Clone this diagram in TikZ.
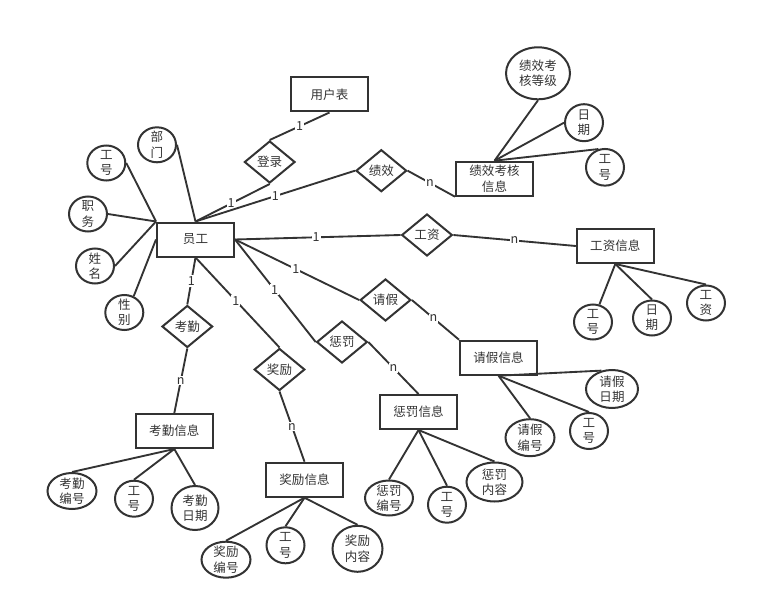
\documentclass[tikz,border=0pt]{standalone}
\usepackage{fontspec}
\setmainfont{Noto Sans CJK SC}
\usepackage{tikz}
\usetikzlibrary{shapes.geometric}
\definecolor{er}{HTML}{333333}

\begin{document}
\begin{tikzpicture}[x=0.75pt,y=-0.75pt,
  every node/.style={text=er,font=\fontsize{9.4}{11.5}\selectfont},
  entity/.style={draw=er,line width=1.5pt,minimum width=57.75pt,minimum height=25.5pt,inner sep=0pt,align=center},
  relation/.style={draw=er,line width=1.5pt,diamond,minimum width=38pt,minimum height=31.5pt,inner sep=0pt},
  attr/.style={draw=er,line width=1.5pt,ellipse,inner xsep=0pt,inner ysep=-2pt,align=center,minimum width=28.5pt,minimum height=26.25pt},
  card/.style={fill=white,inner sep=0.8pt},
  link/.style={draw=er,line width=1.4pt}]
\useasboundingbox (0,0) rectangle (757,610);
% entities
\node[entity] (yh) at (329.5,94.5) {用户表};
\node[entity] (yg) at (195.5,239.5) {员工};
\node[entity] (jxxx) at (494.5,178.7) {绩效考核\\信息};
\node[entity] (gzxx) at (615.3,246) {工资信息};
\node[entity] (qjxx) at (498.5,357.7) {请假信息};
\node[entity] (cfxx) at (418.5,412) {惩罚信息};
\node[entity] (kqxx) at (174.3,431) {考勤信息};
\node[entity] (jlxx) at (304.5,479.7) {奖励信息};
% relations
\node[relation] (dl) at (269.7,162) {登录};
\node[relation] (jx) at (381.3,170.7) {绩效};
\node[relation] (gz) at (427,235) {工资};
\node[relation] (qj) at (385.5,300) {请假};
\node[relation] (cf) at (342,342) {惩罚};
\node[relation] (jl) at (279.5,369.5) {奖励};
\node[relation] (kq) at (187.3,326.5) {考勤};
% attributes of 员工
\node[attr] (gh1) at (106.3,163) {工\\号};
\node[attr] (bm) at (157,144.8) {部\\门};
\node[attr] (zw) at (88,214) {职\\务};
\node[attr] (xm) at (95,266) {姓\\名};
\node[attr] (xb) at (124.3,312.5) {性\\别};
% attributes of 绩效考核信息
\node[attr,minimum width=48pt,minimum height=39pt] (dj) at (538,73.3) {绩效考\\核等级};
\node[attr,minimum height=27.75pt] (rq1) at (584,122.7) {日\\期};
\node[attr,minimum height=27.5pt] (gh2) at (605,167.3) {工\\号};
% attributes of 工资信息
\node[attr] (gh3) at (593,322) {工\\号};
\node[attr] (rq2) at (652,318) {日\\期};
\node[attr] (gzsx) at (706,303) {工\\资};
% attributes of 请假信息
\node[attr,minimum width=39pt,minimum height=28.5pt] (qjrq) at (612,389) {请假\\日期};
\node[attr,minimum width=36.75pt,minimum height=27.75pt] (qjbh) at (530,437.7) {请假\\编号};
\node[attr,minimum height=27pt] (gh4) at (589,431) {工\\号};
% attributes of 惩罚信息
\node[attr,minimum width=36pt] (cfbh) at (389,498) {惩罚\\编号};
\node[attr,minimum height=27pt] (gh5) at (447,504.7) {工\\号};
\node[attr,minimum width=42pt,minimum height=29.25pt] (cfnr) at (494.5,482) {惩罚\\内容};
% attributes of 考勤信息
\node[attr,minimum width=36.75pt,minimum height=27pt] (kqbh) at (72,491) {考勤\\编号};
\node[attr,minimum height=27pt] (gh6) at (134,498.7) {工\\号};
\node[attr,minimum width=35.25pt,minimum height=33pt] (kqrq) at (195,508) {考勤\\日期};
% attributes of 奖励信息
\node[attr,minimum width=36.75pt,minimum height=27pt] (jlbh) at (226,559.7) {奖励\\编号};
\node[attr,minimum height=27pt] (gh7) at (285.5,545.3) {工\\号};
\node[attr,minimum width=37.5pt,minimum height=34.5pt] (jlnr) at (357.5,548.8) {奖励\\内容};
% relation lines
\draw[link] (dl.north) -- node[card,pos=0.5] (c1) {1} (yh.south);
\draw[link] (yg.north) -- node[card,pos=0.48] (c2) {1} (dl.south);
\draw[link] (yg.north) -- node[card,pos=0.5] (c3) {1} (jx.west);
\draw[link] (jx.east) -- node[card,pos=0.47] (c4) {n} (jxxx.south west);
\draw[link] (yg.east) -- node[card,pos=0.49] (c5) {1} (gz.west);
\draw[link] (gz.east) -- node[card,pos=0.5] (c6) {n} (gzxx.west);
\draw[link] (yg.east) -- node[card,pos=0.49] (c7) {1} (qj.west);
\draw[link] (qj.east) -- node[card,pos=0.46] (c8) {n} (qjxx.north west);
\draw[link] (yg.east) -- node[card,pos=0.49] (c9) {1} (cf.west);
\draw[link] (cf.east) -- node[card,pos=0.5] (c10) {n} (cfxx.north);
\draw[link] (yg.south) -- node[card,pos=0.48] (c11) {1} (jl.north);
\draw[link] (jl.south) -- node[card,pos=0.5] (c12) {n} (jlxx.north);
\draw[link] (yg.south) -- node[card,pos=0.5] (c13) {1} (kq.north);
\draw[link] (kq.south) -- node[card,pos=0.5] (c14) {n} (kqxx.north);
% attribute lines
\draw[link] (gh1.east) -- (yg.north west);
\draw[link] (bm.east) -- (yg.north);
\draw[link] (zw.east) -- (yg.north west);
\draw[link] (xm.east) -- (yg.north west);
\draw[link] (xb.60) -- (yg.west);
\draw[link] (jxxx.north) -- (dj.south);
\draw[link] (jxxx.north) -- (rq1.west);
\draw[link] (jxxx.north) -- (gh2.110);
\draw[link] (gzxx.south) -- (gh3.70);
\draw[link] (gzxx.south) -- (rq2.north);
\draw[link] (gzxx.south) -- (gzsx.north);
\draw[link] (qjxx.south) -- (qjrq.120);
\draw[link] (qjxx.south) -- (qjbh.north);
\draw[link] (qjxx.south) -- (gh4.north);
\draw[link] (cfxx.south) -- (cfbh.north);
\draw[link] (cfxx.south) -- (gh5.north);
\draw[link] (cfxx.south) -- (cfnr.north);
\draw[link] (kqxx.south) -- (kqbh.north);
\draw[link] (kqxx.south) -- (gh6.north);
\draw[link] (kqxx.south) -- (kqrq.north);
\draw[link] (jlxx.south) -- (jlbh.north);
\draw[link] (jlxx.south) -- (gh7.north);
\draw[link] (jlxx.south) -- (jlnr.north);
\end{tikzpicture}
\end{document}
